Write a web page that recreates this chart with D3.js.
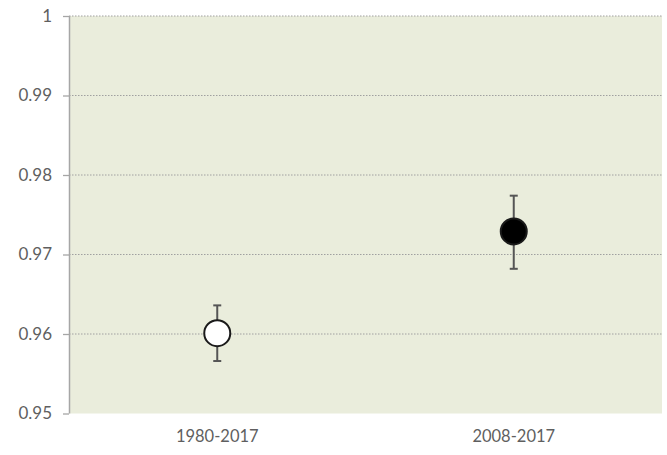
<!DOCTYPE html>
<html><head><meta charset="utf-8">
<script src="https://cdn.jsdelivr.net/npm/d3@7"></script>
<style>body{margin:0;background:#fff}svg{display:block}</style>
</head><body>
<svg id="c" width="667" height="455"></svg>
<script>
const categories = ["1980-2017", "2008-2017"];
const values = [0.9601, 0.9729];
const lower = [0.9566, 0.9682];
const upper = [0.9636, 0.9774];
const fills = ["#ffffff", "#000000"];
const yTicks = [0.95, 0.96, 0.97, 0.98, 0.99, 1];
const yTickLabels = ["0.95", "0.96", "0.97", "0.98", "0.99", "1"];

const svg = d3.select("#c");
const m = {left: 69, right: 5, top: 16, bottom: 41.5};
const W = 667, H = 455;
const x = d3.scaleBand().domain(categories).range([m.left, W - m.right]).padding(0);
const y = d3.scaleLinear().domain([0.95, 1]).range([H - m.bottom, m.top]);
const font = "Lato, 'Open Sans', sans-serif";

svg.append("rect").attr("x", m.left).attr("y", m.top)
  .attr("width", W - m.right - m.left).attr("height", y(0.95) - m.top)
  .attr("fill", "#eaeddc");

svg.append("g").selectAll("line").data(yTicks.filter(d => d > 0.95)).join("line")
  .attr("x1", m.left).attr("x2", W - m.right)
  .attr("y1", d => y(d)).attr("y2", d => y(d))
  .attr("stroke", "#a0a0a0").attr("stroke-width", 1).attr("stroke-dasharray", "1.5,1.5");

const yAxis = svg.append("g").attr("transform", `translate(${m.left},0)`)
  .call(d3.axisLeft(y).tickValues(yTicks).tickFormat((d, i) => yTickLabels[i]).tickSize(6).tickPadding(11));
yAxis.select(".domain").attr("stroke", "#a6a6a6").attr("stroke-width", 1.5).attr("d", `M0.5,${y(1)}V${y(0.95)}`);
yAxis.selectAll(".tick line").attr("stroke", "#a6a6a6").attr("stroke-width", 1.3);
yAxis.selectAll(".tick text").attr("fill", "#5f5f5f").style("font-family", font).style("font-size", "17px");

const xAxis = svg.append("g").attr("transform", `translate(0,${y(0.95)})`)
  .call(d3.axisBottom(x).tickSize(0).tickPadding(17));
xAxis.select(".domain").remove();
xAxis.selectAll(".tick text").attr("fill", "#5f5f5f").style("font-family", font).style("font-size", "16.5px");

const g = svg.append("g");
categories.forEach((c, i) => {
  const cx = x(c) + x.bandwidth() / 2;
  g.append("line").attr("x1", cx).attr("x2", cx).attr("y1", y(upper[i])).attr("y2", y(lower[i]))
    .attr("stroke", "#555").attr("stroke-width", 2);
  [upper[i], lower[i]].forEach(v => {
    g.append("line").attr("x1", cx - 4).attr("x2", cx + 4).attr("y1", y(v)).attr("y2", y(v))
      .attr("stroke", "#555").attr("stroke-width", 2);
  });
  g.append("circle").attr("cx", cx).attr("cy", y(values[i])).attr("r", 13)
    .attr("fill", fills[i]).attr("stroke", "#1a1a1a").attr("stroke-width", 2);
});
</script>
</body></html>
